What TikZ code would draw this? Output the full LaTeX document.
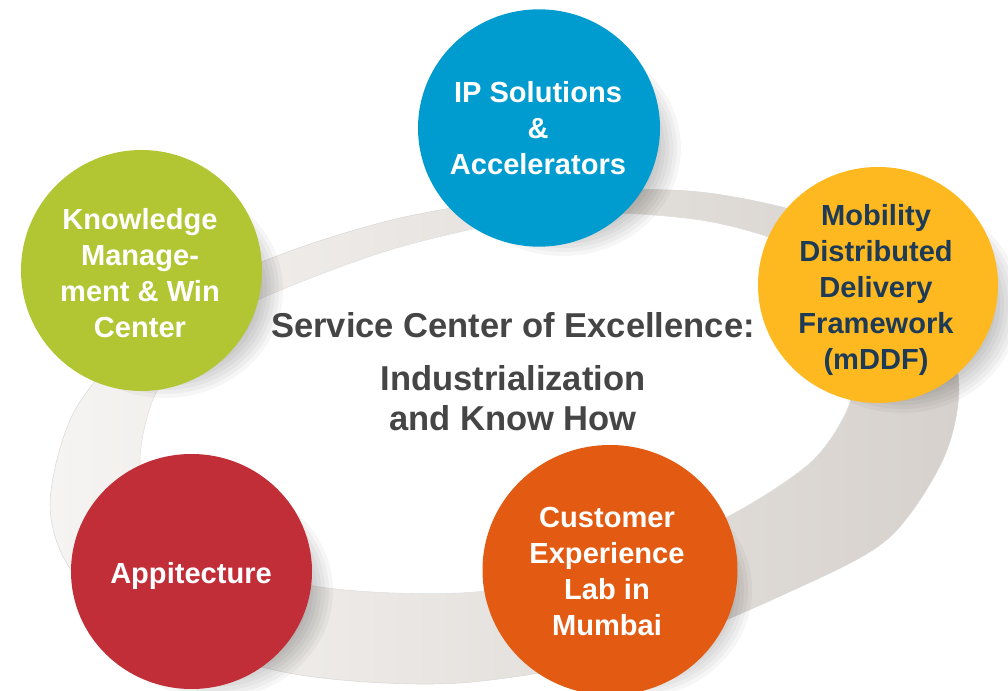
\documentclass[tikz,border=0pt]{standalone}
\usepackage{fontspec}
\setmainfont{Liberation Sans}
\usetikzlibrary{shapes.geometric}
\definecolor{ipblue}{HTML}{009BCF}
\definecolor{kmgreen}{HTML}{B2C634}
\definecolor{mobyellow}{HTML}{FDB91F}
\definecolor{appred}{HTML}{C22E37}
\definecolor{cxorange}{HTML}{E35B12}
\definecolor{navy}{HTML}{1D3A56}
\definecolor{judulgray}{HTML}{454545}
\definecolor{ringlight}{HTML}{F6F4F2}
\definecolor{ringdark}{HTML}{D6D1CC}

\begin{document}
\begin{tikzpicture}[
    x=0.75pt, y=-0.75pt,
    pilar/.style={ellipse, inner sep=0pt},
    isi/.style={align=center, font=\fontsize{21.8}{27}\selectfont\bfseries, text=white},
    judul/.style={align=center, font=\fontsize{25.9}{30}\selectfont\bfseries, text=judulgray}
  ]
    \useasboundingbox (0,0) rectangle (1008,691);
    % ring behind the pillars
    \shade[left color=ringlight, right color=ringdark, draw=gray!30]
      plot[smooth cycle] coordinates {(50,505) (75,410) (150,325) (262,262) (400,218) (560,193)
        (700,192) (830,222) (920,285) (958,375) (945,455) (890,537) (800,587) (640,652)
        (460,683) (300,675) (160,635) (75,575)};
    \fill[white, draw=gray!25]
      plot[smooth cycle] coordinates {(140,460) (155,395) (200,336) (262,298) (400,247) (560,214)
        (700,220) (800,250) (845,300) (858,355) (847,410) (810,463) (727,517) (600,572)
        (460,593) (320,587) (210,555) (155,505)};

    % soft shadows
    \foreach \cx/\cy in {539/128, 141/270, 878/285, 191/571, 610/570}
      \foreach \k in {0,...,7}
        \fill[black, opacity=0.035] (\cx+24,\cy+20) ellipse ({118-4*\k} and {108-4*\k});

    % pillars
    \node[pilar, fill=ipblue, minimum width=181.5pt, minimum height=178pt] (ip) at (539,128) {};
    \node[pilar, fill=kmgreen, minimum width=180.75pt, minimum height=180.75pt] (km) at (141.5,270.5) {};
    \node[pilar, fill=mobyellow, minimum width=180pt, minimum height=177pt] (mddf) at (878,285) {};
    \node[pilar, fill=appred, minimum width=180.75pt, minimum height=176.25pt] (app) at (191.5,571.5) {};
    \node[pilar, fill=cxorange, minimum width=191.25pt, minimum height=187.5pt] (cx) at (610,570) {};

    \node[isi] (iptxt) at (538,128.5) {IP Solutions\\\&\\Accelerators};
    \node[isi] (kmtxt) at (140,273.5) {Knowledge\\Manage-\\ment \& Win\\Center};
    \node[isi, text=navy] (mddftxt) at (876,290) {Mobility\\Distributed\\Delivery\\Framework\\(mDDF)};
    \node[isi] (apptxt) at (191,576) {Appitecture};
    \node[isi] (cxtxt) at (607,571.5) {Customer\\Experience\\Lab in\\Mumbai};

    % centre title
    \node[judul] (scoe) at (513,325) {Service Center of Excellence:};
    \node[judul] (industri) at (513,398) {Industrialization\\and Know How};
  \end{tikzpicture}
\end{document}
